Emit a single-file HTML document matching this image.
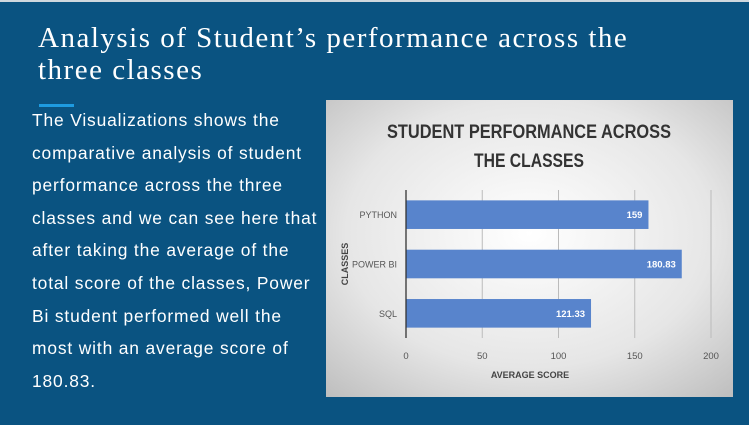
<!DOCTYPE html>
<html><head><meta charset="utf-8"><style>
body{margin:0;width:749px;height:425px;overflow:hidden;background:#0a5381;position:relative;font-family:"Liberation Sans",sans-serif}
#topline{position:absolute;left:0;top:0;width:749px;height:2px;background:#cfd8de}
#title{position:absolute;left:38px;top:22px;color:#fff;font-family:"Liberation Serif",serif;font-size:29px;line-height:32px;letter-spacing:1.5px;white-space:nowrap}
#accent{position:absolute;left:39px;top:104px;width:35px;height:3px;background:#1e9be0}
#body{position:absolute;left:32px;top:104px;width:300px;color:#fff;font-size:17.4px;line-height:32.6px;letter-spacing:0.85px;white-space:nowrap}
#chart{position:absolute;left:326px;top:100px;width:407px;height:297px}
</style></head><body>
<div id="topline"></div>
<div id="title">Analysis of Student’s performance across the<br>three classes</div>
<div id="accent"></div>
<div id="body">The Visualizations shows the<br>comparative analysis of student<br>performance across the three<br>classes and we can see here that<br>after taking the average of the<br>total score of the classes, Power<br>Bi student performed well the<br>most with an average score of<br>180.83.</div>
<svg id="chart" width="407" height="297" viewBox="326 100 407 297">
<defs><radialGradient id="bg" cx="50%" cy="45%" r="75%"><stop offset="0" stop-color="#ffffff"/><stop offset="0.6" stop-color="#e6e6e6"/><stop offset="1" stop-color="#bdbdbd"/></radialGradient></defs>
<rect x="326" y="100" width="407" height="297" fill="url(#bg)"/>
<text x="529" y="138" text-anchor="middle" font-size="19" font-weight="bold" fill="#333" textLength="284" lengthAdjust="spacingAndGlyphs">STUDENT PERFORMANCE ACROSS</text>
<text x="529" y="167" text-anchor="middle" font-size="19" font-weight="bold" fill="#333" textLength="110" lengthAdjust="spacingAndGlyphs">THE CLASSES</text>
<g id="plot"></g>
<text x="530" y="378" text-anchor="middle" font-size="9" font-weight="bold" fill="#444">AVERAGE SCORE</text>
<text transform="translate(348,264) rotate(-90)" text-anchor="middle" font-size="9" font-weight="bold" fill="#444">CLASSES</text>
</svg>
<script>
const categories=["PYTHON","POWER BI","SQL"];
const values=[159,180.83,121.33];
const labels=["159","180.83","121.33"];
const ticks=[0,50,100,150,200];
const NS="http://www.w3.org/2000/svg";
const plotG=document.getElementById('plot');
const X0=406,X1=711,XMAX=200,PTOP=190,PBOT=338;
const xs=v=>X0+(X1-X0)*v/XMAX;
const band=(PBOT-PTOP)/categories.length;
function mk(t,a){const e=document.createElementNS(NS,t);for(const k in a)e.setAttribute(k,a[k]);plotG.appendChild(e);return e;}
ticks.forEach((t)=>{
  if(t>0){const l=mk('line',{x1:xs(t),x2:xs(t),y1:PTOP,y2:PBOT,stroke:'#bbb','stroke-width':1});
  
  }
  const tx=mk('text',{x:xs(t),y:359,'text-anchor':'middle','font-size':9.5,fill:'#555'});tx.textContent=t;
  
  
});
categories.forEach((c,i)=>{
  const cy=PTOP+band*(i+0.5);const h=band*0.58;
  const r=mk('rect',{x:X0,y:cy-h/2,width:xs(values[i])-X0,height:h,fill:'#5884cc'});
  
  
  const v=mk('text',{x:xs(values[i])-6,y:cy+3.5,'text-anchor':'end','font-size':9.5,'font-weight':'bold',fill:'#fff'});v.textContent=labels[i];
  
  
  const cl=mk('text',{x:397,y:cy+3.5,'text-anchor':'end','font-size':9,fill:'#555'});cl.textContent=c;
  
  
});
const ax=mk('line',{x1:X0,x2:X0,y1:PTOP,y2:PBOT,stroke:'#333','stroke-width':1.3});


</script>
</body></html>
